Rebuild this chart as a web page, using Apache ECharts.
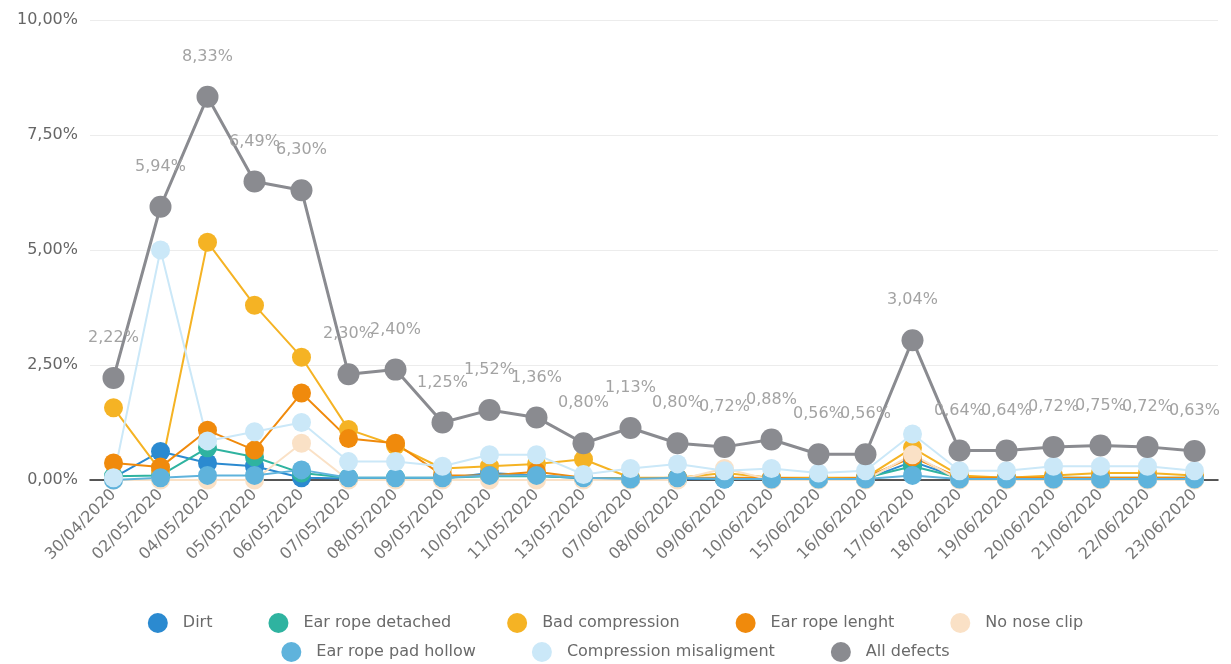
<!DOCTYPE html>
<html>
<head>
<meta charset="utf-8">
<script src="https://cdn.jsdelivr.net/npm/echarts@6/dist/echarts.min.js"></script>
<style>
  html, body { margin: 0; padding: 0; background: #fff; }
  #chart { width: 1231px; height: 664px; }
</style>
</head>
<body>
<div id="chart"></div>
<script>
const categories = ['30/04/2020', '02/05/2020', '04/05/2020', '05/05/2020', '06/05/2020', '07/05/2020',
  '08/05/2020', '09/05/2020', '10/05/2020', '11/05/2020', '13/05/2020', '07/06/2020', '08/06/2020',
  '09/06/2020', '10/06/2020', '15/06/2020', '16/06/2020', '17/06/2020', '18/06/2020', '19/06/2020',
  '20/06/2020', '21/06/2020', '22/06/2020', '23/06/2020']

const dirt = [0.05, 0.62, 0.37, 0.30, 0.05, 0.03, 0.03, 0.03, 0.15, 0.10, 0.03, 0.02, 0.02, 0.02, 0.02, 0.02, 0.02, 0.40, 0.05, 0.02, 0.02, 0.02, 0.02, 0.02]
const earRopeDetached = [0.08, 0.10, 0.70, 0.50, 0.15, 0.05, 0.05, 0.05, 0.08, 0.08, 0.05, 0.03, 0.05, 0.03, 0.03, 0.03, 0.05, 0.30, 0.05, 0.05, 0.05, 0.05, 0.05, 0.05]
const badCompression = [1.57, 0.20, 5.17, 3.80, 2.67, 1.10, 0.75, 0.25, 0.30, 0.35, 0.45, 0.05, 0.05, 0.15, 0.05, 0.05, 0.05, 0.70, 0.10, 0.05, 0.10, 0.15, 0.15, 0.10]
const earRopeLength = [0.37, 0.28, 1.08, 0.65, 1.89, 0.90, 0.80, 0.10, 0.10, 0.18, 0.05, 0.02, 0.05, 0.05, 0.05, 0.02, 0.05, 0.50, 0.05, 0.05, 0.05, 0.05, 0.05, 0.05]
const noNoseClip = [0, 0, 0, 0, 0.80, 0, 0, 0, 0, 0, 0, 0, 0, 0.25, 0, 0, 0, 0.55, 0, 0, 0, 0, 0, 0]
const earRopePadHollow = [0, 0.05, 0.10, 0.10, 0.22, 0.05, 0.05, 0.05, 0.10, 0.10, 0.05, 0.02, 0.05, 0.02, 0.02, 0.02, 0.02, 0.10, 0.02, 0.02, 0.02, 0.02, 0.02, 0.02]
const compressionMisaligment = [0.05, 5.00, 0.85, 1.05, 1.25, 0.40, 0.40, 0.30, 0.55, 0.55, 0.12, 0.25, 0.35, 0.20, 0.25, 0.15, 0.20, 1.00, 0.20, 0.20, 0.30, 0.30, 0.30, 0.20]
const allDefects = [2.22, 5.94, 8.33, 6.49, 6.30, 2.30, 2.40, 1.25, 1.52, 1.36, 0.80, 1.13, 0.80, 0.72, 0.88, 0.56, 0.56, 3.04, 0.64, 0.64, 0.72, 0.75, 0.72, 0.63]

const pct = (v) => v.toFixed(2).replace('.', ',') + '%'
const font = 'DejaVu Sans'

function small(name, data, color) {
  return {
    type: 'line',
    name,
    data,
    symbol: 'circle',
    symbolSize: 19,
    lineStyle: { width: 2, color },
    itemStyle: { color },
    emphasis: { disabled: true }
  }
}

const series = [
  small('Dirt', dirt, '#2b8ad0'),
  small('Ear rope detached', earRopeDetached, '#2fb3a0'),
  small('Bad compression', badCompression, '#f5b324'),
  small('Ear rope lenght', earRopeLength, '#f08a0c'),
  small('No nose clip', noNoseClip, '#fae1c6'),
  small('Ear rope pad hollow', earRopePadHollow, '#5fb3dc'),
  small('Compression misaligment', compressionMisaligment, '#cbe8f8'),
  {
    type: 'line',
    name: 'All defects',
    data: allDefects,
    symbol: 'circle',
    symbolSize: 22,
    z: 5,
    lineStyle: { width: 3, color: '#8a8b90' },
    itemStyle: { color: '#8a8b90' },
    emphasis: { disabled: true },
    label: {
      show: true,
      position: 'top',
      distance: 21,
      color: '#a3a3a3',
      fontSize: 16,
      fontFamily: font,
      formatter: (p) => pct(p.value)
    }
  }
]

const legendText = { color: '#6a6a6a', fontSize: 16, fontFamily: font, padding: [0, 0, 0, 10] }

const chart = echarts.init(document.getElementById('chart'))
chart.setOption({
  animation: false,
  legend: [
    {
      data: ['Dirt', 'Ear rope detached', 'Bad compression', 'Ear rope lenght', 'No nose clip'],
      top: 608, left: 'center', icon: 'circle', itemWidth: 20, itemHeight: 20, itemGap: 56,
      textStyle: legendText
    },
    {
      data: ['Ear rope pad hollow', 'Compression misaligment', 'All defects'],
      top: 637, left: 'center', icon: 'circle', itemWidth: 20, itemHeight: 20, itemGap: 56,
      textStyle: legendText
    }
  ],
  grid: { left: 90, right: 13, top: 20, bottom: 184 },
  xAxis: {
    type: 'category',
    data: categories,
    axisLine: { lineStyle: { color: '#222', width: 1.5 } },
    axisTick: { show: false },
    axisLabel: { interval: 0, rotate: 45, color: '#777', fontSize: 16, fontFamily: font, margin: 12 }
  },
  yAxis: {
    type: 'value',
    min: 0,
    max: 10,
    interval: 2.5,
    axisLabel: { color: '#666', fontSize: 16, fontFamily: font, formatter: pct, margin: 12 },
    splitLine: { lineStyle: { color: '#ececec' } }
  },
  series
})
</script>
</body>
</html>
